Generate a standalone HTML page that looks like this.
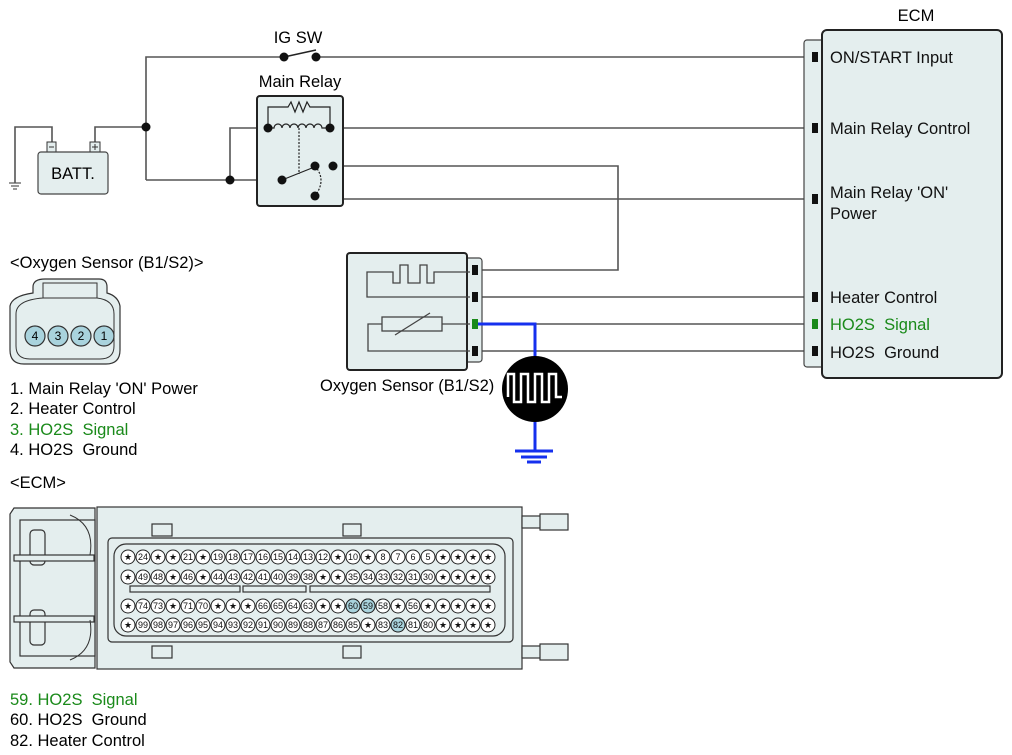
<!DOCTYPE html>
<html><head><meta charset="utf-8"><style>
html,body{margin:0;padding:0;background:#fff}
svg{display:block}
text{font-family:"Liberation Sans",sans-serif}
</style></head><body>
<svg width="1012" height="755" viewBox="0 0 1012 755" xmlns="http://www.w3.org/2000/svg">
<!-- top wires -->
<g fill="none" stroke="#555" stroke-width="1.6">
<polyline points="15,183 15,127 52,127 52,142"/>
<polyline points="95,142 95,127 146,127"/>
<polyline points="146,180 146,57 284,57"/>
<line x1="284" y1="57" x2="316" y2="50" stroke="#222"/>
<polyline points="316,57 812,57"/>
<polyline points="146,180 282,180"/>
<polyline points="230,180 230,128 268,128"/>
<polyline points="330,128 812,128"/>
<polyline points="333,166 618,166 618,270 482,270"/>
<polyline points="333,166 339,166 339,199 812,199"/>
<line x1="482" y1="297" x2="812" y2="297"/>
<line x1="535" y1="324" x2="812" y2="324"/>
<line x1="482" y1="351" x2="812" y2="351"/>
</g>
<g stroke="#555" stroke-width="1.2"><line x1="9" y1="183" x2="21" y2="183"/><line x1="11" y1="186" x2="19" y2="186"/><line x1="13" y1="189" x2="17" y2="189"/></g>
<circle cx="146" cy="127" r="4.5" fill="#111"/>
<circle cx="230" cy="180" r="4.5" fill="#111"/>
<circle cx="284" cy="57" r="4.5" fill="#111"/>
<circle cx="316" cy="57" r="4.5" fill="#111"/>
<text x="298" y="43" font-size="16.5" text-anchor="middle">IG SW</text>
<!-- battery -->
<rect x="47" y="142" width="9" height="10" fill="#e4eeee" stroke="#333"/><line x1="49" y1="147" x2="54" y2="147" stroke="#333"/>
<rect x="90" y="142" width="10" height="10" fill="#e4eeee" stroke="#333"/><path d="M92,147h6M95,144v6" stroke="#333"/>
<rect x="38" y="152" width="70" height="42" rx="3" fill="#e4eeee" stroke="#444" stroke-width="1.2"/>
<text x="73" y="179" font-size="16.5" text-anchor="middle">BATT.</text>
<!-- relay -->
<text x="300" y="87" font-size="16.5" text-anchor="middle">Main Relay</text>
<rect x="257" y="96" width="86" height="110" rx="3" fill="#e4eeee" stroke="#222" stroke-width="2"/>
<g fill="none" stroke="#222" stroke-width="1.2">
<polyline points="268,128 268,107 288,107 291,102 295,112 299,102 303,112 307,102 310,107 330,107 330,128"/>
<path d="M268,128 h6 a4,4 0 0 1 8,0 a4,4 0 0 1 8,0 a4,4 0 0 1 8,0 a4,4 0 0 1 8,0 a4,4 0 0 1 8,0 a4,4 0 0 1 8,0 h6"/>
<line x1="299" y1="128" x2="299" y2="174" stroke-dasharray="2,1.5"/>
<line x1="282" y1="180" x2="312" y2="168"/>
<path d="M315,166 q12,14 0,30" stroke-dasharray="2,1.5"/>
</g>
<circle cx="268" cy="128" r="4.5" fill="#111"/><circle cx="330" cy="128" r="4.5" fill="#111"/>
<circle cx="282" cy="180" r="4.5" fill="#111"/><circle cx="315" cy="166" r="4.5" fill="#111"/>
<circle cx="333" cy="166" r="4.5" fill="#111"/><circle cx="315" cy="196" r="4.5" fill="#111"/>
<!-- ECM box -->
<text x="916" y="21" font-size="16.5" text-anchor="middle">ECM</text>
<rect x="804" y="40" width="24" height="327" rx="3" fill="#e4eeee" stroke="#444" stroke-width="1.2"/>
<rect x="822" y="30" width="180" height="348" rx="5" fill="#e4eeee" stroke="#222" stroke-width="2"/>
<g fill="#111"><rect x="812" y="52" width="6" height="10"/><rect x="812" y="123" width="6" height="10"/><rect x="812" y="194" width="6" height="10"/><rect x="812" y="292" width="6" height="10"/><rect x="812" y="346" width="6" height="10"/></g>
<rect x="812" y="319" width="6" height="10" fill="#1a8a1a"/>
<g font-size="16.5" fill="#111">
<text x="830" y="63">ON/START Input</text>
<text x="830" y="134">Main Relay Control</text>
<text x="830" y="198">Main Relay 'ON'</text>
<text x="830" y="219">Power</text>
<text x="830" y="303">Heater Control</text>
<text x="830" y="330" fill="#1a8a1a">HO2S&#160; Signal</text>
<text x="830" y="358">HO2S&#160; Ground</text>
</g>
<!-- oxygen sensor -->
<rect x="464" y="258" width="18" height="104" rx="3" fill="#e4eeee" stroke="#444" stroke-width="1.2"/>
<rect x="347" y="253" width="120" height="117" rx="3" fill="#e4eeee" stroke="#222" stroke-width="2"/>
<g fill="none" stroke="#444" stroke-width="1.3">
<polyline points="470,272 434,272 434,283 427,283 427,265 420,265 420,283 408,283 408,265 400,265 400,283 393,283 393,272 367,272 367,297 470,297"/>
<rect x="382" y="317" width="60" height="14"/>
<line x1="395" y1="335" x2="430" y2="313"/>
<polyline points="382,324 368,324 368,351 470,351"/>
<line x1="442" y1="324" x2="470" y2="324"/>
</g>
<g fill="#111"><rect x="472" y="265" width="6" height="10"/><rect x="472" y="292" width="6" height="10"/><rect x="472" y="346" width="6" height="10"/></g>
<rect x="472" y="319" width="6" height="10" fill="#1a8a1a"/>
<text x="320" y="391" font-size="16.5">Oxygen Sensor (B1/S2)</text>
<polyline points="478,324 535,324 535,451" fill="none" stroke="#1530ee" stroke-width="3"/>
<circle cx="535" cy="389" r="33" fill="#000"/>
<polyline points="508,397 508,374 514,374 514,402 521,402 521,374 528,374 528,402 535,402 535,374 542,374 542,402 549,402 549,374 556,374 556,397 562,397" fill="none" stroke="#fff" stroke-width="2.5"/>
<g stroke="#1530ee" stroke-width="3"><line x1="515" y1="451" x2="553" y2="451"/><line x1="521" y1="457" x2="547" y2="457"/><line x1="527" y1="462" x2="541" y2="462"/></g>
<!-- connector picture -->
<text x="10" y="268" font-size="16.5">&lt;Oxygen Sensor (B1/S2)&gt;</text>
<path d="M45,279 H99 Q107,279 107,287 V293 Q118,296 120,306 V350 Q120,364 106,364 H24 Q10,364 10,350 V306 Q12,296 33,293 V287 Q33,279 45,279 Z" fill="#e4eeee" stroke="#333" stroke-width="1.2"/>
<path d="M43,283 H97 V298 Q114,300 114,314 V346 Q114,359 100,359 H30 Q16,359 16,346 V314 Q16,300 43,298 Z" fill="none" stroke="#333" stroke-width="1"/>
<line x1="43" y1="298" x2="97" y2="298" stroke="#333"/>
<g fill="#a9d3dd" stroke="#333" stroke-width="1.2">
<circle cx="35" cy="336" r="10"/><circle cx="58" cy="336" r="10"/><circle cx="81" cy="336" r="10"/><circle cx="104" cy="336" r="10"/></g>
<g font-size="12" text-anchor="middle"><text x="35" y="340">4</text><text x="58" y="340">3</text><text x="81" y="340">2</text><text x="104" y="340">1</text></g>
<g font-size="16.5">
<text x="10" y="394">1. Main Relay 'ON' Power</text>
<text x="10" y="414">2. Heater Control</text>
<text x="10" y="435" fill="#1a8a1a">3. HO2S&#160; Signal</text>
<text x="10" y="455">4. HO2S&#160; Ground</text>
<text x="10" y="488">&lt;ECM&gt;</text>
<text x="10" y="705" fill="#1a8a1a">59. HO2S&#160; Signal</text>
<text x="10" y="725">60. HO2S&#160; Ground</text>
<text x="10" y="746">82. Heater Control</text>
</g>
<!-- ECM connector body -->
<g fill="#e4eeee" stroke="#333" stroke-width="1.2">
<path d="M14,508 H95 V668 H14 L10,662 V514 Z"/>
<rect x="20" y="520" width="75" height="136"/>
<rect x="97" y="507" width="425" height="162"/>
<rect x="522" y="516" width="20" height="12"/><rect x="540" y="514" width="28" height="16"/>
<rect x="522" y="646" width="20" height="12"/><rect x="540" y="644" width="28" height="16"/>
<rect x="152" y="524" width="20" height="12"/><rect x="343" y="524" width="18" height="12"/>
<rect x="152" y="646" width="20" height="12"/><rect x="343" y="646" width="18" height="12"/>
<rect x="108" y="538" width="405" height="104" rx="4"/>
<rect x="114" y="544" width="391" height="92" rx="12"/>
<rect x="130" y="586" width="110" height="6"/><rect x="243" y="586" width="63" height="6"/><rect x="310" y="586" width="180" height="6"/>
<rect x="30" y="530" width="15" height="35" rx="4"/><rect x="30" y="610" width="15" height="35" rx="4"/>
<rect x="14" y="555" width="80" height="6"/><rect x="14" y="616" width="80" height="6"/>
</g>
<path d="M70,515 q25,10 20,40 M70,660 q25,-10 20,-40" fill="none" stroke="#333"/>
<!-- pins -->
<g fill="#fff" stroke="#222" stroke-width="1">
<g id="r1"><circle cx="128" cy="557" r="7"/><circle cx="143" cy="557" r="7"/><circle cx="158" cy="557" r="7"/><circle cx="173" cy="557" r="7"/><circle cx="188" cy="557" r="7"/><circle cx="203" cy="557" r="7"/><circle cx="218" cy="557" r="7"/><circle cx="233" cy="557" r="7"/><circle cx="248" cy="557" r="7"/><circle cx="263" cy="557" r="7"/><circle cx="278" cy="557" r="7"/><circle cx="293" cy="557" r="7"/><circle cx="308" cy="557" r="7"/><circle cx="323" cy="557" r="7"/><circle cx="338" cy="557" r="7"/><circle cx="353" cy="557" r="7"/><circle cx="368" cy="557" r="7"/><circle cx="383" cy="557" r="7"/><circle cx="398" cy="557" r="7"/><circle cx="413" cy="557" r="7"/><circle cx="428" cy="557" r="7"/><circle cx="443" cy="557" r="7"/><circle cx="458" cy="557" r="7"/><circle cx="473" cy="557" r="7"/><circle cx="488" cy="557" r="7"/></g>
<use href="#r1" y="20"/><use href="#r1" y="49"/><use href="#r1" y="68"/>
</g>
<g fill="#a9d3dd" stroke="#222"><circle cx="353" cy="606" r="7"/><circle cx="368" cy="606" r="7"/><circle cx="398" cy="625" r="7"/></g>
<g font-size="9" text-anchor="middle" fill="#111">
<text x="128" y="560">★</text><text x="143" y="560">24</text><text x="158" y="560">★</text><text x="173" y="560">★</text><text x="188" y="560">21</text><text x="203" y="560">★</text><text x="218" y="560">19</text><text x="233" y="560">18</text><text x="248" y="560">17</text><text x="263" y="560">16</text><text x="278" y="560">15</text><text x="293" y="560">14</text><text x="308" y="560">13</text><text x="323" y="560">12</text><text x="338" y="560">★</text><text x="353" y="560">10</text><text x="368" y="560">★</text><text x="383" y="560">8</text><text x="398" y="560">7</text><text x="413" y="560">6</text><text x="428" y="560">5</text><text x="443" y="560">★</text><text x="458" y="560">★</text><text x="473" y="560">★</text><text x="488" y="560">★</text>
<text x="128" y="580">★</text><text x="143" y="580">49</text><text x="158" y="580">48</text><text x="173" y="580">★</text><text x="188" y="580">46</text><text x="203" y="580">★</text><text x="218" y="580">44</text><text x="233" y="580">43</text><text x="248" y="580">42</text><text x="263" y="580">41</text><text x="278" y="580">40</text><text x="293" y="580">39</text><text x="308" y="580">38</text><text x="323" y="580">★</text><text x="338" y="580">★</text><text x="353" y="580">35</text><text x="368" y="580">34</text><text x="383" y="580">33</text><text x="398" y="580">32</text><text x="413" y="580">31</text><text x="428" y="580">30</text><text x="443" y="580">★</text><text x="458" y="580">★</text><text x="473" y="580">★</text><text x="488" y="580">★</text>
<text x="128" y="609">★</text><text x="143" y="609">74</text><text x="158" y="609">73</text><text x="173" y="609">★</text><text x="188" y="609">71</text><text x="203" y="609">70</text><text x="218" y="609">★</text><text x="233" y="609">★</text><text x="248" y="609">★</text><text x="263" y="609">66</text><text x="278" y="609">65</text><text x="293" y="609">64</text><text x="308" y="609">63</text><text x="323" y="609">★</text><text x="338" y="609">★</text><text x="353" y="609">60</text><text x="368" y="609">59</text><text x="383" y="609">58</text><text x="398" y="609">★</text><text x="413" y="609">56</text><text x="428" y="609">★</text><text x="443" y="609">★</text><text x="458" y="609">★</text><text x="473" y="609">★</text><text x="488" y="609">★</text>
<text x="128" y="628">★</text><text x="143" y="628">99</text><text x="158" y="628">98</text><text x="173" y="628">97</text><text x="188" y="628">96</text><text x="203" y="628">95</text><text x="218" y="628">94</text><text x="233" y="628">93</text><text x="248" y="628">92</text><text x="263" y="628">91</text><text x="278" y="628">90</text><text x="293" y="628">89</text><text x="308" y="628">88</text><text x="323" y="628">87</text><text x="338" y="628">86</text><text x="353" y="628">85</text><text x="368" y="628">★</text><text x="383" y="628">83</text><text x="398" y="628">82</text><text x="413" y="628">81</text><text x="428" y="628">80</text><text x="443" y="628">★</text><text x="458" y="628">★</text><text x="473" y="628">★</text><text x="488" y="628">★</text>
</g>
</svg>
</body></html>
